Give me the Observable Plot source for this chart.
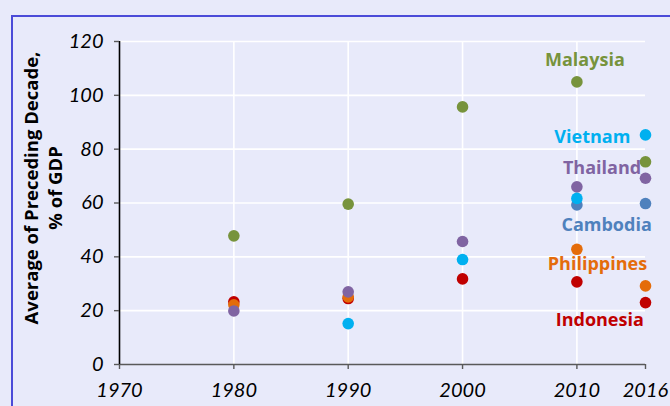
<!DOCTYPE html>
<html>
<head>
<meta charset="utf-8">
<script src="https://cdn.jsdelivr.net/npm/d3@7"></script>
<script src="https://cdn.jsdelivr.net/npm/@observablehq/plot@0.6"></script>
<style>
  html, body { margin: 0; padding: 0; background: #E8EAFA; width: 670px; height: 406px; overflow: hidden; }
  #frame { position: absolute; left: 11px; top: 15px; width: 720px; height: 500px;
           border-left: 2px solid #4B4BD8; border-top: 2px solid #4B4BD8; box-sizing: border-box; }
  #chart { position: absolute; left: 0; top: 0; }
</style>
</head>
<body>
<div id="frame"></div>
<div id="chart"></div>
<script>
// ---- data ----
const years = [1980, 1990, 2000, 2010, 2016];
const countries = ["Cambodia", "Indonesia", "Philippines", "Thailand", "Vietnam", "Malaysia"];
const colors = ["#4F81BD", "#C00000", "#E46C0A", "#8064A2", "#00B0F0", "#77933C"];
const cambodia    = [null, null, null, 59.3, 59.8];
const indonesia   = [23.3, 24.5, 31.8, 30.7, 23.0];
const philippines = [22.2, 25.1, null, 42.8, 29.2];
const thailand    = [19.9, 27.0, 45.7, 66.0, 69.2];
const vietnam     = [null, 15.2, 39.0, 61.7, 85.3];
const malaysia    = [47.8, 59.6, 95.7, 105.0, 75.3];
const yTicks = [0, 20, 40, 60, 80, 100, 120];
const xTicks = [1970, 1980, 1990, 2000, 2010, 2016];
const gridYears = [1980, 1990, 2000, 2010];
// label anchor positions (in data units)
const labelYears  = [2012.6, 2012.0, 2011.8, 2012.2, 2011.35, 2010.7];
const labelValues = [51.6, 16.3, 37.1, 72.8, 84.3, 112.9];
const yTitle = ["Average of Preceding Decade,", "% of GDP"];

const series = [cambodia, indonesia, philippines, thailand, vietnam, malaysia];
const rows = [];
series.forEach((vals, i) => vals.forEach((v, j) => {
  if (v != null) rows.push({country: countries[i], year: years[j], value: v});
}));
const labels = countries.map((c, i) => ({country: c, year: labelYears[i], value: labelValues[i]}));

const plot = Plot.plot({
  width: 670, height: 406,
  marginLeft: 119, marginRight: 25, marginTop: 41, marginBottom: 42,
  style: {background: "transparent", fontFamily: "Lato", color: "#000"},
  x: {domain: [1970, 2016]},
  y: {domain: [0, 120]},
  color: {domain: countries, range: colors},
  marks: [
    Plot.gridY(yTicks.filter(d => d > 0), {stroke: "white", strokeOpacity: 1, strokeWidth: 1.6}),
    Plot.gridX(gridYears, {stroke: "white", strokeOpacity: 1, strokeWidth: 1.6}),
    Plot.ruleY([0], {stroke: "#595959", strokeWidth: 1.6}),
    Plot.ruleX([1970], {stroke: "#000", strokeWidth: 1.6}),
    Plot.axisY(yTicks, {tickSize: 5, tickPadding: 11, fontSize: 20, fontStyle: "italic", label: null, stroke: "#595959", strokeWidth: 1.4, fill: "#000"}),
    Plot.axisX(xTicks, {tickSize: 5, tickPadding: 13, fontSize: 20, fontStyle: "italic", label: null, tickFormat: d => String(d), stroke: "#595959", strokeWidth: 1.4, fill: "#000"}),
    Plot.dot(rows, {x: "year", y: "value", fill: "country", r: 5.8}),
    Plot.text(labels, {x: "year", y: "value", text: "country", fill: "country", fontSize: 18, fontWeight: "bold", fontFamily: "Open Sans"})
  ]
});
document.getElementById("chart").appendChild(plot);

const svg = d3.select(plot);
const t = svg.append("text")
  .attr("transform", "translate(44,188) rotate(-90)")
  .attr("text-anchor", "middle")
  .attr("font-family", "Open Sans")
  .attr("font-weight", "bold")
  .attr("font-size", 18.5)
  .attr("fill", "#000");
yTitle.forEach((s, i) => t.append("tspan").attr("x", 0).attr("dy", i === 0 ? "-0.3em" : "1.25em").text(s));
</script>
</body>
</html>
